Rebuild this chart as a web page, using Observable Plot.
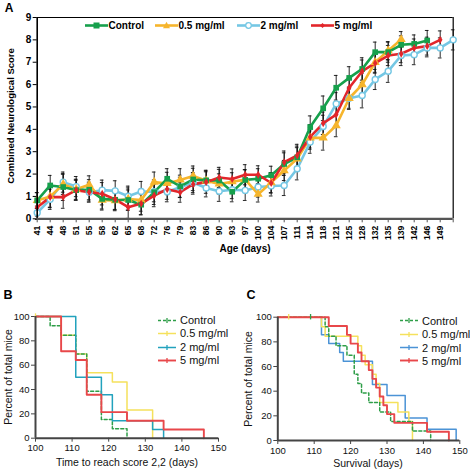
<!DOCTYPE html>
<html><head><meta charset="utf-8">
<script src="https://cdn.jsdelivr.net/npm/d3@7"></script>
<script src="https://cdn.jsdelivr.net/npm/@observablehq/plot@0.6"></script>
<style>
body{margin:0;background:#fff;font-family:"Liberation Sans",Arial,sans-serif;}
#root{position:relative;width:470px;height:472px;overflow:hidden;background:#fff;}
.abs{position:absolute;white-space:nowrap;line-height:1;}
.pl{position:absolute;}
</style></head><body><div id="root"></div>
<script>
// ---------- Panel A data ----------
const ageLabels = [41,44,48,51,55,58,62,65,68,72,76,79,83,86,90,93,97,100,104,107,111,114,118,121,125,128,132,135,139,142,146,149];
const ctrlScore = [0.82,1.49,1.42,1.28,1.30,0.89,0.85,0.84,0.63,1.19,1.79,1.45,1.76,1.72,1.71,1.21,1.74,1.79,1.95,2.45,2.75,4.10,4.94,5.86,6.30,6.70,7.45,7.45,7.78,7.82,7.97];
const ctrlErr   = [0.35,0.45,0.6,0.45,0.45,0.5,0.45,0.45,0.45,0.55,0.45,0.5,0.5,0.45,0.5,0.45,0.45,0.45,0.4,0.5,0.5,0.5,0.55,0.55,0.5,0.5,0.45,0.45,0.4,0.4,0.45];
const dose05Score = [0.82,1.0,1.54,1.32,1.52,0.84,0.81,0.88,0.84,1.64,1.58,1.74,1.91,1.70,1.56,1.66,1.75,1.10,1.62,2.16,2.68,3.62,3.62,4.17,5.39,6.0,7.0,7.52,8.02];
const dose05Err   = [0.35,0.5,0.45,0.45,0.4,0.4,0.45,0.5,0.5,0.45,0.5,0.5,0.45,0.4,0.45,0.4,0.45,0.35,0.45,0.45,0.5,0.45,0.55,0.5,0.45,0.5,0.45,0.4,0.35];
const dose2Score = [0.27,0.87,1.64,1.44,1.19,1.28,1.25,1.01,1.22,1.21,1.21,1.41,1.62,1.38,1.23,1.30,1.27,1.42,1.47,1.49,2.24,3.43,4.13,5.14,5.39,5.51,6.23,6.60,7.30,7.34,7.64,7.64,8.0];
const dose2Err   = [0.3,0.45,0.45,0.45,0.45,0.45,0.45,0.45,0.45,0.45,0.45,0.45,0.45,0.4,0.45,0.4,0.45,0.45,0.45,0.45,0.5,0.5,0.5,0.5,0.5,0.55,0.45,0.5,0.45,0.45,0.4,0.45,0.45];
const dose5Score = [0.52,0.97,0.97,1.28,1.19,1.12,0.87,0.52,0.68,1.04,1.32,1.19,1.55,1.64,1.85,1.78,1.97,1.97,1.60,2.53,2.83,3.66,4.27,4.66,5.86,6.60,6.96,7.30,7.38,7.64,7.72,8.0];
const dose5Err   = [0.4,0.45,0.5,0.45,0.4,0.5,0.45,0.5,0.5,0.5,0.45,0.45,0.45,0.5,0.45,0.45,0.45,0.4,0.45,0.5,0.5,0.55,0.5,0.5,0.45,0.5,0.45,0.45,0.4,0.4,0.4,0.4];
const seriesNames = ["Control","0.5 mg/ml","2 mg/ml","5 mg/ml"];

// ---------- Panel B data (time to reach score 2,2) ----------
const kmB_ctrl = [[100,100],[104,92.3],[107,84.6],[111,69.2],[114,38.5],[118,15.4],[121,7.7],[125,0]];
const kmB_05   = [[100,100],[107,84.6],[111,69.2],[114,53.8],[121,46.2],[125,23.1],[132,0]];
const kmB_2    = [[100,100],[111,50],[118,35.7],[121,14.3],[132,7.1],[135,0]];
const kmB_5    = [[100,100],[107,71.4],[111,64.3],[114,35.7],[118,21.4],[125,14.3],[135,7.1],[146,0]];
const censorB  = [["0.5 mg/ml",100,100]];

// ---------- Panel C data (survival) ----------
const kmC_ctrl = [[100,100],[113,92.3],[114,84.6],[116,76.9],[119,69.2],[121,53.8],[122,46.2],[123,38.5],[125,30.8],[128,23.1],[131,15.4],[137,7.7],[142,0]];
const kmC_05   = [[100,100],[112,92.3],[113,84.6],[122,76.9],[123,69.2],[124,61.5],[126,53.8],[127,46.2],[128,30.8],[133,23.1],[136,15.4],[137,0]];
const kmC_2    = [[100,100],[112,85.7],[114,78.6],[117,71.4],[118,64.3],[126,45.5],[130,36.4],[135,18.2],[141,9.1],[149,0]];
const kmC_5    = [[100,100],[114,92.9],[119,85.7],[120,78.6],[122,71.4],[123,64.3],[125,57.1],[126,50],[127,42.9],[128,35.7],[129,28.6],[130,21.4],[132,14.3],[141,7.1],[147,0]];
const censorC  = [["0.5 mg/ml",103,100],["Control",109,100]];
const kmTicks = [100,110,120,130,140,150];
const pctTicks = [0,20,40,60,80,100];

// ---------- styles ----------
const FONT = "'Liberation Sans', Arial, sans-serif";
const colA = {"Control":"#16a04c","0.5 mg/ml":"#f6b52c","2 mg/ml":"#74c7e4","5 mg/ml":"#e2262b"};
const colB = {"Control":"#2e9e48","0.5 mg/ml":"#f5e15c","2 mg/ml":"#22a2bd","5 mg/ml":"#e8474a"};
const colC = {"Control":"#2e9e48","0.5 mg/ml":"#f5e15c","2 mg/ml":"#4b93d6","5 mg/ml":"#e8474a"};
const root = document.getElementById("root");

function addText(txt, x, y, o={}) {
  const d = document.createElement("div");
  d.className = "abs";
  d.textContent = txt;
  d.style.left = x + "px"; d.style.top = y + "px";
  d.style.fontSize = (o.size||10) + "px";
  d.style.fontWeight = o.bold ? "bold" : "normal";
  d.style.color = o.color || "#000";
  const anchor = o.anchor || "middle";
  const tx = anchor === "start" ? "0" : "-50%";
  d.style.transform = `translate(${tx},-50%)` + (o.rotate ? ` rotate(${o.rotate}deg)` : "");
  root.appendChild(d);
}
function addSvgSym(x, y, w, h, inner) {
  const ns = "http://www.w3.org/2000/svg";
  const s = document.createElementNS(ns, "svg");
  s.setAttribute("width", w); s.setAttribute("height", h);
  s.style.position = "absolute"; s.style.left = x + "px"; s.style.top = (y - h/2) + "px";
  s.innerHTML = inner;
  root.appendChild(s);
}
function place(el, x, y) { el.classList.add("pl"); el.style.left = x+"px"; el.style.top = y+"px"; root.appendChild(el); }

// ---------- Panel A ----------
const seriesA = [
  {name:"2 mg/ml", v:dose2Score, e:dose2Err},
  {name:"0.5 mg/ml", v:dose05Score, e:dose05Err},
  {name:"Control", v:ctrlScore, e:ctrlErr},
  {name:"5 mg/ml", v:dose5Score, e:dose5Err}
];
const rowsA = [];
seriesA.forEach(s => s.v.forEach((v,i) => rowsA.push({series:s.name, i, v, e:s.e[i]})));
const symA = {"Control":"square","0.5 mg/ml":"triangle","2 mg/ml":"circle","5 mg/ml":"diamond"};

const marksA = [
  Plot.ruleY([9], {stroke:"#000", strokeWidth:1}),
  Plot.ruleX([32], {stroke:"#000", strokeWidth:1.2}),
  Plot.axisY({ticks:d3.range(0,10), tickSize:4, tickPadding:2, fontSize:10, fontWeight:"bold", label:null}),
  Plot.axisX({ticks:d3.range(0,33), tickSize:4, tickPadding:3, tickRotate:-90, fontSize:8.5, fontWeight:"bold", label:null, stroke:"#555",
              tickFormat: i => ageLabels[i] === undefined ? "" : String(ageLabels[i])}),
  Plot.ruleX(rowsA, {x:"i", y1:d=>d.v-d.e, y2:d=>d.v+d.e, stroke:"#111", strokeWidth:0.9}),
  Plot.ruleY(rowsA, {y:d=>d.v+d.e, x1:d=>d.i-0.14, x2:d=>d.i+0.14, stroke:"#111", strokeWidth:0.9}),
  Plot.ruleY(rowsA, {y:d=>d.v-d.e, x1:d=>d.i-0.14, x2:d=>d.i+0.14, stroke:"#111", strokeWidth:0.9}),
];
seriesA.forEach(s => {
  const rows = rowsA.filter(r => r.series === s.name);
  marksA.push(Plot.line(rows, {x:"i", y:"v", stroke:colA[s.name], strokeWidth:2.6}));
});
seriesA.forEach(s => {
  const rows = rowsA.filter(r => r.series === s.name);
  if (s.name === "2 mg/ml")
    marksA.push(Plot.dot(rows, {x:"i", y:"v", r:3, fill:"#fff", stroke:colA[s.name], strokeWidth:1.4}));
  else if (s.name === "Control")
    marksA.push(Plot.dot(rows, {x:"i", y:"v", r:3.2, symbol:"square", fill:colA[s.name]}));
  else if (s.name === "0.5 mg/ml")
    marksA.push(Plot.dot(rows, {x:"i", y:"v", r:3.4, symbol:"triangle", fill:colA[s.name]}));
  else
    marksA.push(Plot.dot(rows, {x:"i", y:"v", r:2.4, symbol:"diamond", fill:colA[s.name]}));
});
marksA.push(Plot.ruleX([0], {stroke:"#000", strokeWidth:1.6}));
marksA.push(Plot.ruleY([0], {stroke:"#555", strokeWidth:2.2}));

const plotA = Plot.plot({
  width:470, height:260, marginLeft:36.7, marginRight:17.3, marginTop:17, marginBottom:41.7,
  x:{domain:[0,32]}, y:{domain:[0,9]},
  style:{fontFamily:FONT, color:"#000", background:"transparent"},
  marks:marksA
});
place(plotA, 0, 0);

addText("A", 9, 8, {size:12, bold:true});
addText("Combined Neurological Score", 11, 116, {size:9.5, bold:true, rotate:-90});
addText("Age (days)", 245, 249, {size:10, bold:true});

// legend A
const legA = [["Control",85],["0.5 mg/ml",155],["2 mg/ml",237],["5 mg/ml",311]];
legA.forEach(([name,x]) => {
  const c = colA[name];
  let m;
  if (name === "Control") m = `<rect x="8.5" y="2.5" width="6" height="6" fill="${c}"/>`;
  else if (name === "0.5 mg/ml") m = `<path d="M11.5,1.8 L15,8.2 L8,8.2 Z" fill="${c}"/>`;
  else if (name === "2 mg/ml") m = `<circle cx="11.5" cy="5.5" r="2.8" fill="#fff" stroke="${c}" stroke-width="1.3"/>`;
  else m = `<path d="M11.5,3 L14,5.5 L11.5,8 L9,5.5 Z" fill="${c}"/>`;
  addSvgSym(x, 25.5, 23, 11, `<line x1="0" y1="5.5" x2="23" y2="5.5" stroke="${c}" stroke-width="2.6"/>` + m);
  addText(name, x + 23.5, 25.5, {size:10, bold:true, anchor:"start"});
});

// ---------- KM panels ----------
function kmRows(arr, name) { return arr.map(([d,p]) => ({d, p, name})); }
function kmPlot(sets, censor, cols, ml, mr, mt, mb) {
  const marks = [
    Plot.axisX({ticks:kmTicks, tickSize:4, tickPadding:2.5, fontSize:9.5, label:null, stroke:"#444"}),
    Plot.axisY({ticks:pctTicks, tickSize:4, tickPadding:2, fontSize:9.5, label:null, stroke:"#444"}),
  ];
  sets.forEach(([name, arr]) => {
    const o = {x:"d", y:"p", curve:"step-after", stroke:cols[name], strokeWidth: name === "5 mg/ml" ? 1.9 : 1.5};
    if (name === "Control") o.strokeDasharray = "3,2.2";
    marks.push(Plot.line(kmRows(arr, name), o));
  });
  marks.push(Plot.ruleX(censor, {x:d=>d[1], y1:d=>d[2]-2.2, y2:d=>d[2]+2.2, stroke:d=>cols[d[0]], strokeWidth:1.3}));
  marks.push(Plot.ruleX([100], {stroke:"#444", strokeWidth:2}));
  marks.push(Plot.ruleY([0], {stroke:"#444", strokeWidth:2}));
  return Plot.plot({
    width:235, height:202, marginLeft:ml, marginRight:mr, marginTop:mt, marginBottom:mb,
    x:{domain:[100,150]}, y:{domain:[0,100]},
    style:{fontFamily:FONT, color:"#111", background:"transparent"},
    marks
  });
}
const orderKM = ["0.5 mg/ml","Control","2 mg/ml","5 mg/ml"];
const setsB = {"Control":kmB_ctrl,"0.5 mg/ml":kmB_05,"2 mg/ml":kmB_2,"5 mg/ml":kmB_5};
const setsC = {"Control":kmC_ctrl,"0.5 mg/ml":kmC_05,"2 mg/ml":kmC_2,"5 mg/ml":kmC_5};
const plotB = kmPlot(orderKM.map(n => [n, setsB[n]]), censorB, colB, 35, 17, 46, 34.3);
place(plotB, 0, 270);
const plotC = kmPlot(["2 mg/ml","0.5 mg/ml","Control","5 mg/ml"].map(n => [n, setsC[n]]), censorC, colC, 42.3, 10.7, 46.7, 32);
place(plotC, 235, 270);

addText("B", 8, 295, {size:12.5, bold:true});
addText("C", 251, 295, {size:12.5, bold:true});
addText("Percent of total mice", 8, 377, {size:10.5, rotate:-90, color:"#111"});
addText("Percent of total mice", 248, 379, {size:10.5, rotate:-90, color:"#111"});
addText("Time to reach score 2,2 (days)", 127, 462, {size:10.5, color:"#111"});
addText("Survival (days)", 368, 463, {size:10.5, color:"#111"});

function kmLegend(x, ys, cols) {
  seriesNames.forEach((name, k) => {
    const c = cols[name];
    const dash = name === "Control" ? ` stroke-dasharray="3,2"` : "";
    addSvgSym(x, ys[k], 18, 9, `<line x1="0" y1="4.5" x2="18" y2="4.5" stroke="${c}" stroke-width="${name==="5 mg/ml"?1.9:1.5}"${dash}/><line x1="9" y1="2" x2="9" y2="7" stroke="${c}" stroke-width="1.3"/>`);
    addText(name, x + 22, ys[k], {size:11, anchor:"start", color:"#111"});
  });
}
kmLegend(158, [320, 333, 347, 360], colB);
kmLegend(400, [320.5, 334, 347.5, 360.5], colC);
</script></body></html>
